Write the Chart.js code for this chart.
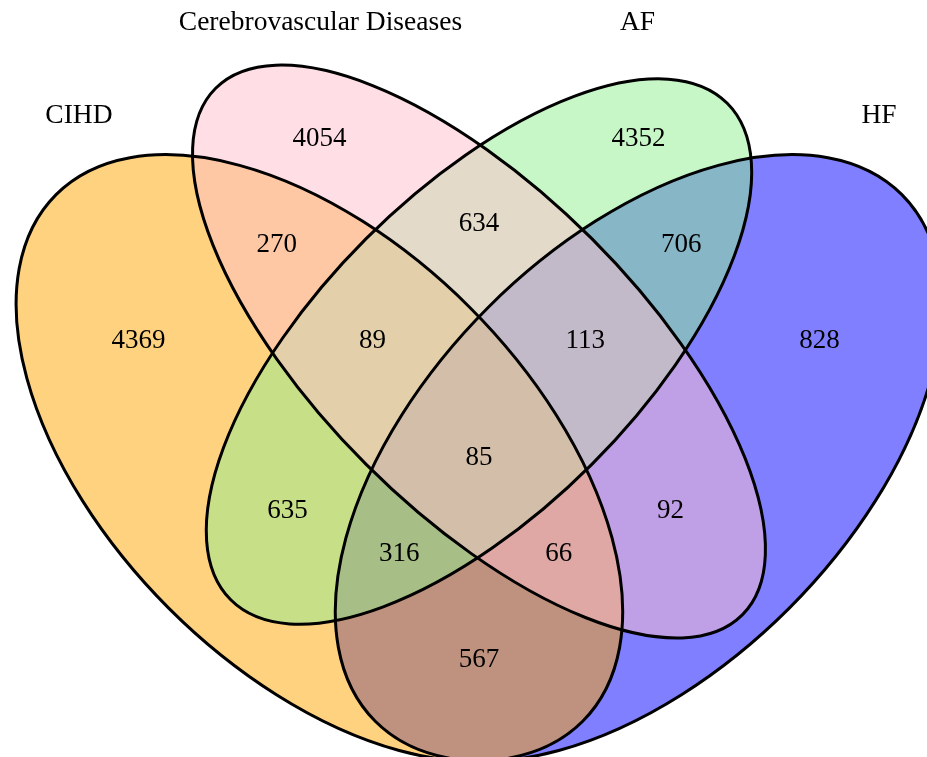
<!DOCTYPE html>
<html>
<head>
<meta charset="utf-8">
<script src="https://cdn.jsdelivr.net/npm/chart.js@4"></script>
<style>
    html, body { margin: 0; padding: 0; background: #ffffff; }
    #chart { display: block; }
</style>
</head>
<body>
<canvas id="chart" width="927" height="757"></canvas>
<script>
// set names, in the order of the region keys below
const setNames = ['CIHD', 'Cerebrovascular Diseases', 'AF', 'HF'];

// region key = membership in (CIHD, Cerebro, AF, HF)
const regionKeys = ['1000', '0100', '0010', '0001', '1100', '0110', '0011', '1110',
                    '0111', '1111', '1010', '0101', '1011', '1101', '1001'];
const regionCounts = [4369, 4054, 4352, 828, 270, 634, 706, 89,
                      113, 85, 635, 92, 316, 66, 567];

// label layout (unit square of the diagram)
const regionLabelX = [0.18, 0.35, 0.65, 0.82, 0.31, 0.50, 0.69, 0.40,
                      0.60, 0.50, 0.32, 0.68, 0.425, 0.575, 0.50];
const regionLabelY = [0.58, 0.77, 0.77, 0.58, 0.67, 0.69, 0.67, 0.58,
                      0.58, 0.47, 0.42, 0.42, 0.38, 0.38, 0.28];
const setLabelX = [0.124, 0.351, 0.649, 0.876];
const setLabelY = [0.792, 0.879, 0.879, 0.792];

// ellipses, listed in drawing order
const shapes = [
    { set: 3, x: 0.65, y: 0.47, a: 0.35, b: 0.20, rot: 45,  color: 'rgba(0, 0, 255, 0.5)' },
    { set: 0, x: 0.35, y: 0.47, a: 0.35, b: 0.20, rot: 135, color: 'rgba(255, 165, 0, 0.5)' },
    { set: 2, x: 0.50, y: 0.57, a: 0.33, b: 0.15, rot: 45,  color: 'rgba(144, 238, 144, 0.5)' },
    { set: 1, x: 0.50, y: 0.57, a: 0.35, b: 0.15, rot: 135, color: 'rgba(255, 192, 203, 0.5)' }
];

function ellipsePath(chart, e) {
    const xs = chart.scales.x, ys = chart.scales.y;
    const ctx = chart.ctx;
    const kx = xs.getPixelForValue(1) - xs.getPixelForValue(0);
    const ky = ys.getPixelForValue(0) - ys.getPixelForValue(1);
    ctx.save();
    ctx.beginPath();
    ctx.translate(xs.getPixelForValue(e.x), ys.getPixelForValue(e.y));
    ctx.scale(kx, -ky);
    ctx.ellipse(0, 0, e.a, e.b, e.rot * Math.PI / 180, 0, 2 * Math.PI);
    ctx.restore();
}

const vennShapes = {
    id: 'vennShapes',
    beforeDatasetsDraw(chart) {
        const ctx = chart.ctx;
        shapes.forEach(e => {
            ellipsePath(chart, e);
            ctx.fillStyle = e.color;
            ctx.fill();
        });
        shapes.forEach(e => {
            ellipsePath(chart, e);
            ctx.lineWidth = 3;
            ctx.strokeStyle = '#000000';
            ctx.stroke();
        });
    }
};

const vennText = {
    id: 'vennText',
    afterDatasetsDraw(chart) {
        const ctx = chart.ctx;
        ctx.save();
        ctx.fillStyle = '#000000';
        ctx.textAlign = 'center';
        ctx.textBaseline = 'middle';
        chart.data.datasets.forEach((ds, i) => {
            const meta = chart.getDatasetMeta(i);
            ctx.font = ds.labelFont;
            meta.data.forEach((pt, j) => {
                ctx.fillText(ds.labels[j], pt.x, pt.y);
            });
        });
        ctx.restore();
    }
};

const ctx = document.getElementById('chart').getContext('2d');
const chart = new Chart(ctx, {
    type: 'scatter',
    data: {
        datasets: [
            {
                label: 'regions',
                data: regionCounts.map((c, i) => ({ x: regionLabelX[i], y: regionLabelY[i] })),
                labels: regionCounts.map(String),
                labelFont: '27px "Liberation Serif", "Times New Roman", serif',
                pointRadius: 0
            },
            {
                label: 'sets',
                data: setNames.map((n, i) => ({ x: setLabelX[i], y: setLabelY[i] })),
                labels: setNames,
                labelFont: '27.5px "Liberation Serif", "Times New Roman", serif',
                pointRadius: 0
            }
        ]
    },
    options: {
        responsive: false,
        animation: false,
        devicePixelRatio: 1,
        layout: { padding: 0 },
        scales: {
            x: { type: 'linear', display: false, min: 0.0498, max: 0.9211 },
            y: { type: 'linear', display: false, min: 0.1889, max: 0.9004 }
        },
        plugins: {
            legend: { display: false },
            tooltip: { enabled: false }
        }
    },
    plugins: [vennShapes, vennText]
});
</script>
</body>
</html>
